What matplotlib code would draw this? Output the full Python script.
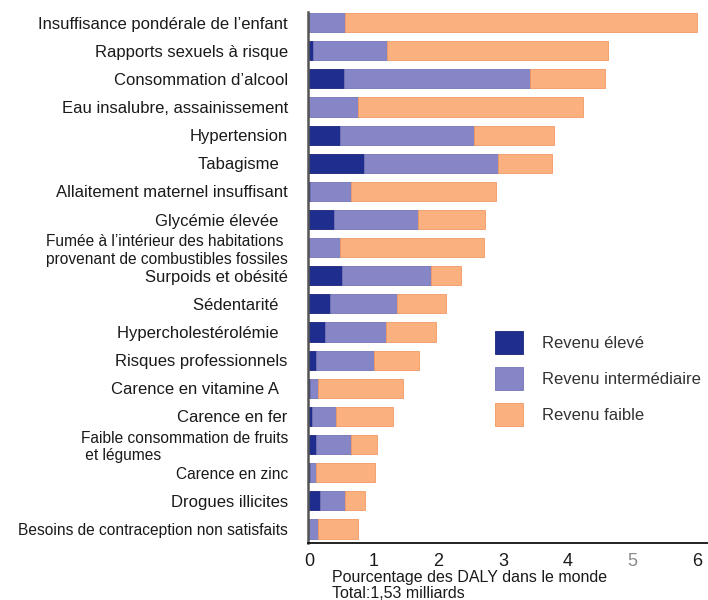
import numpy as np
import matplotlib
matplotlib.use("Agg")
import matplotlib.pyplot as plt

plt.rcParams['font.family'] = ['Liberation Sans', 'DejaVu Sans']

# risk factors, top to bottom
categories = [
    "Insuffisance pondérale de l\u2019enfant",
    "Rapports sexuels à risque",
    "Consommation d\u2019alcool",
    "Eau insalubre, assainissement",
    "Hypertension",
    "Tabagisme  ",
    "Allaitement maternel insuffisant",
    "Glycémie élevée  ",
    "Fumée à l\u2019intérieur des habitations \nprovenant de combustibles fossiles",
    "Surpoids et obésité",
    "Sédentarité  ",
    "Hypercholestérolémie  ",
    "Risques professionnels",
    "Carence en vitamine A  ",
    "Carence en fer",
    "Faible consommation de fruits\n et légumes",
    "Carence en zinc",
    "Drogues illicites",
    "Besoins de contraception non satisfaits",
]
# % of world DALYs by income group
revenu_eleve = [0.0, 0.06, 0.53, 0.0, 0.47, 0.85, 0.01, 0.38, 0.0, 0.51,
                0.32, 0.25, 0.11, 0.01, 0.04, 0.10, 0.01, 0.16, 0.0]
revenu_inter = [0.56, 1.15, 2.89, 0.76, 2.08, 2.07, 0.64, 1.30, 0.48, 1.38,
                1.04, 0.94, 0.89, 0.13, 0.38, 0.55, 0.09, 0.39, 0.14]
revenu_faible = [5.44, 3.41, 1.16, 3.48, 1.23, 0.84, 2.24, 1.04, 2.23, 0.46,
                 0.76, 0.77, 0.69, 1.31, 0.88, 0.40, 0.92, 0.31, 0.62]
series_labels = ["Revenu élevé", "Revenu intermédiaire", "Revenu faible"]
xticks = [0, 1, 2, 3, 4, 5, 6]

colors = ["#1f2e8e", "#8686c6", "#fbb07f"]
edges = ["#18247a", "#7474b8", "#f29a62"]

fig = plt.figure(figsize=(7.08, 6.0), dpi=100)
ax = fig.add_axes([308 / 708, 1 - 543 / 600, 1 - 308 / 708, 531 / 600])

y = np.arange(len(categories))
left = np.zeros(len(categories))
for vals, lab, c, e in zip([revenu_eleve, revenu_inter, revenu_faible],
                           series_labels, colors, edges):
    vals = np.array(vals)
    ax.barh(y, vals, left=left, height=0.68, color=c, edgecolor=e,
            linewidth=0.6, label=lab)
    left += vals

ax.set_ylim(18.5, -0.38)
ax.set_xlim(-0.02, 6.17)
ax.set_yticks(y)
ax.set_yticklabels(categories, fontsize=12, color="#1a1a1a")
ax.set_xticks(xticks)
ax.set_xticklabels([str(t) for t in xticks], fontsize=13, color="#1a1a1a")
ax.get_xticklabels()[5].set_color("#8a8a8a")
ax.tick_params(axis="y", length=0, pad=14.5)
ax.tick_params(axis="x", length=0, pad=7)

# the two-line labels and a few bottom ones are set a bit smaller
for lbl in ax.get_yticklabels():
    txt = lbl.get_text()
    if "\n" in txt or txt.startswith("Carence en zinc") or txt.startswith("Besoins"):
        lbl.set_fontsize(11.2)
    if txt.startswith("Faible"):
        lbl.set_multialignment("left")

for s in ["top", "right"]:
    ax.spines[s].set_visible(False)
ax.spines["left"].set_color("#555555")
ax.spines["left"].set_linewidth(1.8)
ax.spines["bottom"].set_color("#111111")
ax.spines["bottom"].set_linewidth(1.3)

fig.text(332 / 708, 1 - 570 / 600,
         "Pourcentage des DALY dans le monde\nTotal:1,53 milliards",
         fontsize=11.5, color="#1a1a1a", ha="left", va="top",
         multialignment="left", linespacing=1.05)

ax.legend(loc="upper left", bbox_to_anchor=(495 / 708, 1 - 331 / 600),
          bbox_transform=fig.transFigure, frameon=False, fontsize=12,
          borderpad=0, borderaxespad=0, handlelength=1.65, handleheight=1.79,
          labelspacing=0.75, handletextpad=1.15, labelcolor="#333333")

fig.savefig("out.png", dpi=100)
